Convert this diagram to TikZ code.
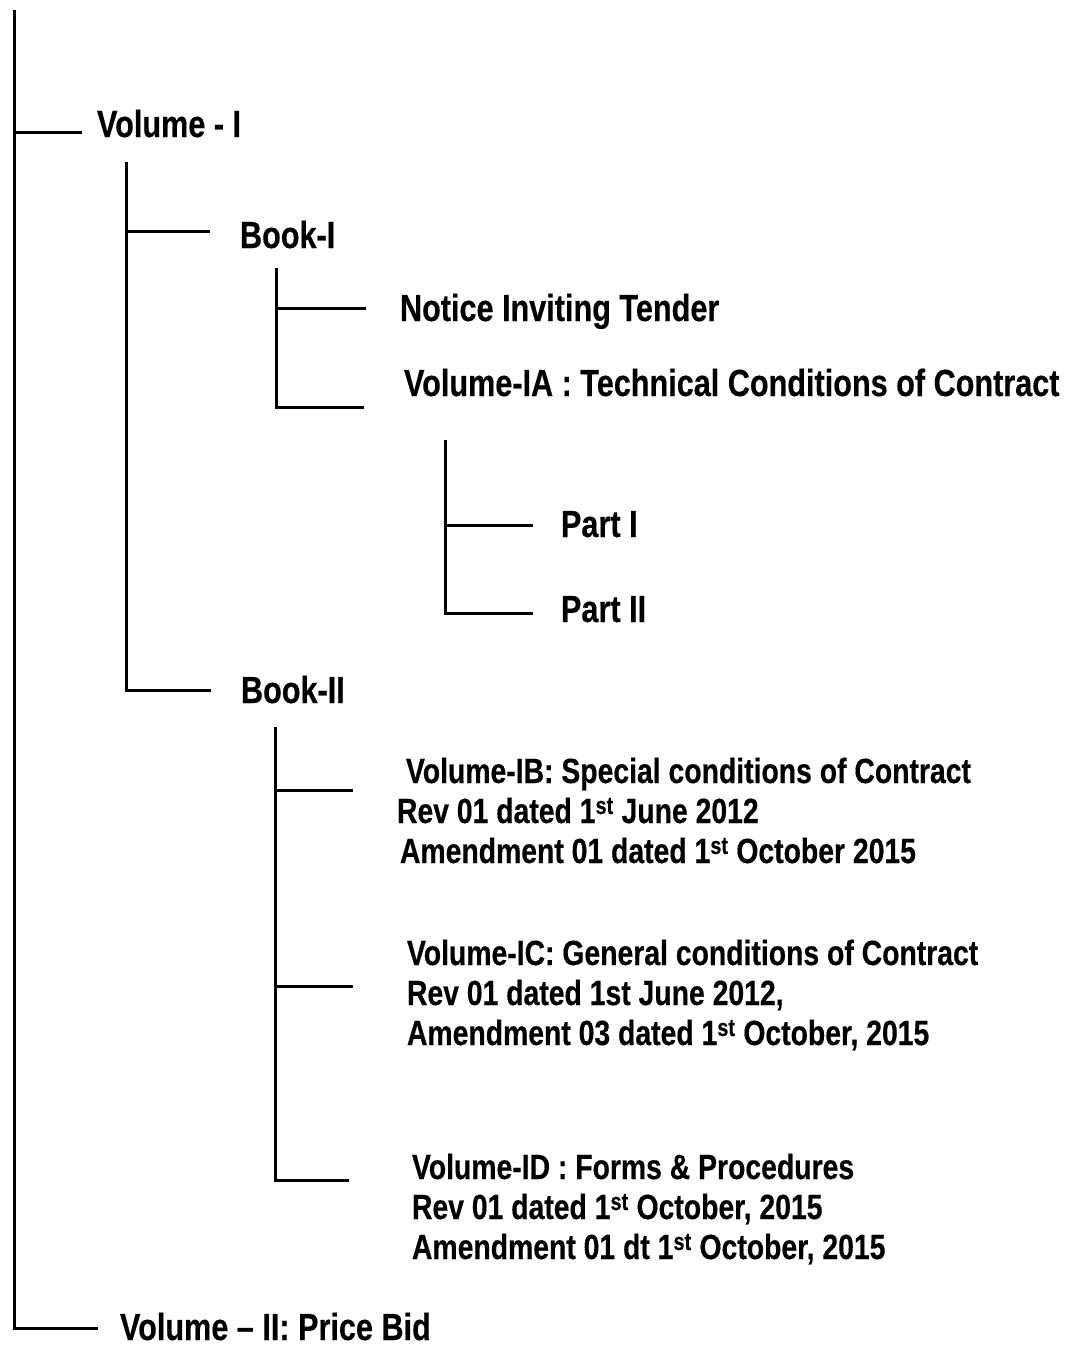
\documentclass[tikz,border=0pt]{standalone}
\usepackage{fontspec}
\setmainfont{Liberation Sans}[FakeStretch=0.81,BoldFeatures={FakeBold=0.4}]
\tikzset{
  lbl/.style={inner sep=0pt,outer sep=0pt,anchor=base west,font=\bfseries\fontsize{37.8}{44}\selectfont},
  note/.style={lbl,font=\bfseries\fontsize{35}{42}\selectfont},
  wire/.style={draw=black,line width=3pt}
}
\begin{document}
\begin{tikzpicture}[x=1pt,y=-1pt]
\path[use as bounding box,fill=white] (0,0) rectangle (1071,1346);
\node[lbl] (vol1) at (97,137) {Volume - I};
\node[lbl] (book1) at (240,248) {Book-I};
\node[lbl] (nit) at (400,321) {Notice Inviting Tender};
\node[lbl] (via) at (404,396) {Volume-IA : Technical Conditions of Contract};
\node[lbl] (part1) at (561,537) {Part I};
\node[lbl] (part2) at (561,622) {Part II};
\node[lbl] (book2) at (241,703) {Book-II};
\node[note] (vib1) at (406,783) {Volume-IB: Special conditions of Contract};
\node[note] (vib2) at (397,823) {Rev 01 dated 1\textsuperscript{st} June 2012};
\node[note] (vib3) at (400,863) {Amendment 01 dated 1\textsuperscript{st} October 2015};
\node[note] (vic1) at (407,965) {Volume-IC: General conditions of Contract};
\node[note] (vic2) at (407,1005) {Rev 01 dated 1st June 2012,};
\node[note] (vic3) at (407,1045) {Amendment 03 dated 1\textsuperscript{st} October, 2015};
\node[note] (vid1) at (412,1179) {Volume-ID : Forms \& Procedures};
\node[note] (vid2) at (412,1219) {Rev 01 dated 1\textsuperscript{st} October, 2015};
\node[note] (vid3) at (412,1259) {Amendment 01 dt 1\textsuperscript{st} October, 2015};
\node[lbl] (vol2) at (120,1340) {Volume -- II: Price Bid};
\coordinate (r0) at (14,10);
\coordinate (vol1e) at (82,132);
\coordinate (vol2e) at (98,1328);
\coordinate (r1) at (126,162);
\coordinate (book1e) at (210,231);
\coordinate (book2e) at (211,690);
\coordinate (r2) at (276,268);
\coordinate (nite) at (366,308);
\coordinate (viae) at (364,407);
\coordinate (r3) at (445,440);
\coordinate (part1e) at (533,525);
\coordinate (part2e) at (533,613);
\coordinate (r4) at (275,727);
\coordinate (vibe) at (353,790);
\coordinate (vice) at (353,986);
\coordinate (vide) at (349,1180);
\draw[wire] (r0) |- (vol2e);
\draw[wire] (r0 |- vol1e) -- (vol1e);
\draw[wire] (r1) |- (book2e);
\draw[wire] (r1 |- book1e) -- (book1e);
\draw[wire] (r2) |- (viae);
\draw[wire] (r2 |- nite) -- (nite);
\draw[wire] (r3) |- (part2e);
\draw[wire] (r3 |- part1e) -- (part1e);
\draw[wire] (r4) |- (vide);
\draw[wire] (r4 |- vibe) -- (vibe);
\draw[wire] (r4 |- vice) -- (vice);
\end{tikzpicture}
\end{document}
